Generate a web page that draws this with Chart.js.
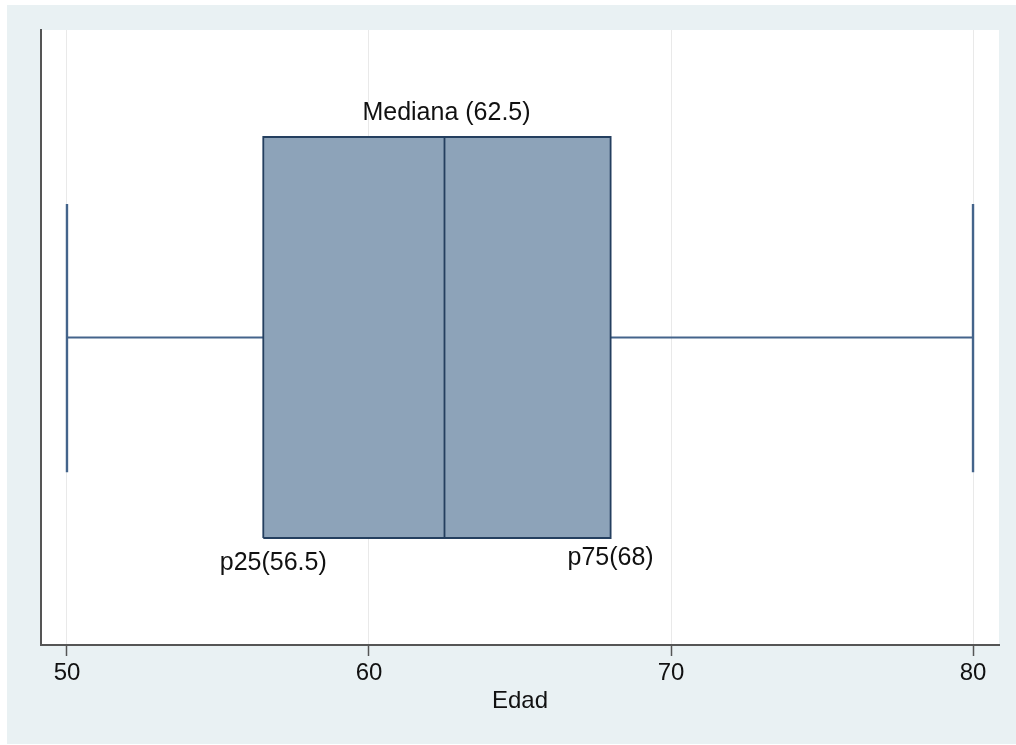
<!DOCTYPE html>
<html>
<head>
<meta charset="utf-8">
<script src="https://cdn.jsdelivr.net/npm/chart.js@4.4.0/dist/chart.umd.min.js"></script>
<style>
  html, body { margin: 0; padding: 0; background: #ffffff; }
  #wrap { position: relative; width: 1016px; height: 745px; overflow: hidden; }
  #bg { position: absolute; left: 7px; top: 5px; width: 1009px; height: 739px; background: #e9f1f3; }
  #c { position: absolute; left: 0; top: 0; }
</style>
</head>
<body>
<div id="wrap">
  <div id="bg"></div>
  <canvas id="c" width="1016" height="745"></canvas>
</div>
<script>
// ---- data ----
const statNames  = ['min', 'p25', 'median', 'p75', 'max'];
const statValues = [50, 56.5, 62.5, 68, 80];
const tickValues = [50, 60, 70, 80];
const axisTitle  = 'Edad';
const annotationTexts  = ['Mediana (62.5)', 'p25(56.5)', 'p75(68)'];
const annotationStats  = ['median', 'p25', 'p75'];

const v = name => statValues[statNames.indexOf(name)];

// vertical geometry (in y-scale units 0..1)
const yMid = 0.5, boxTop = 0.826, boxBottom = 0.174, capTop = 0.717, capBottom = 0.281;

const boxFill = '#8da3b9';
const boxLine = '#243f5f';
const whiskerColor = '#44648b';

const lineDs = (data, color, width, order) => ({
  data, showLine: true, borderColor: color, borderWidth: width,
  pointRadius: 0, pointHoverRadius: 0, fill: false, tension: 0, order: order
});

const datasets = [
  // whiskers
  lineDs([{x: v('min'), y: yMid}, {x: v('p25'), y: yMid}], whiskerColor, 2, 1),
  lineDs([{x: v('p75'), y: yMid}, {x: v('max'), y: yMid}], whiskerColor, 2, 1),
  // caps
  lineDs([{x: v('min'), y: capBottom}, {x: v('min'), y: capTop}], whiskerColor, 2.4, 1),
  lineDs([{x: v('max'), y: capBottom}, {x: v('max'), y: capTop}], whiskerColor, 2.4, 1),
  // median
  lineDs([{x: v('median'), y: boxBottom}, {x: v('median'), y: boxTop}], boxLine, 1.8, 0),
  // box outline
  lineDs([{x: v('p25'), y: boxBottom}, {x: v('p75'), y: boxBottom}, {x: v('p75'), y: boxTop},
          {x: v('p25'), y: boxTop}, {x: v('p25'), y: boxBottom}], boxLine, 1.8, 0),
  // box fill (top edge filled down to bottom edge), drawn first
  Object.assign(lineDs([{x: v('p25'), y: boxTop}, {x: v('p75'), y: boxTop}], 'rgba(0,0,0,0)', 0, 5),
    {fill: {value: boxBottom}, backgroundColor: boxFill})
];

// label placement (pixel offsets relative to scale positions)
const labelPlacement = {
  median: {dx: 2,  ref: boxTop,    dy: -24},
  p25:    {dx: 10, ref: boxBottom, dy: 25},
  p75:    {dx: 0,  ref: boxBottom, dy: 20}
};

const FONT = '"Liberation Sans", Arial, Helvetica, sans-serif';

const plotBg = {
  id: 'plotBg',
  beforeDraw(chart) {
    const {ctx, chartArea: a} = chart;
    ctx.save();
    ctx.fillStyle = '#ffffff';
    ctx.fillRect(a.left, a.top, a.right - a.left, a.bottom - a.top);
    ctx.restore();
  }
};

const labels = {
  id: 'labels',
  afterDatasetsDraw(chart) {
    const {ctx} = chart;
    const xs = chart.scales.x, ys = chart.scales.y;
    ctx.save();
    ctx.font = '25px ' + FONT;
    ctx.fillStyle = '#111111';
    ctx.textAlign = 'center';
    ctx.textBaseline = 'middle';
    annotationStats.forEach((s, i) => {
      const p = labelPlacement[s];
      const x = xs.getPixelForValue(v(s)) + p.dx;
      const y = ys.getPixelForValue(p.ref) + p.dy;
      ctx.fillText(annotationTexts[i], x, y);
    });
    ctx.restore();
  }
};

new Chart(document.getElementById('c'), {
  type: 'scatter',
  data: { datasets },
  plugins: [plotBg, labels],
  options: {
    responsive: false,
    devicePixelRatio: 1,
    animation: false,
    events: [],
    layout: { padding: { left: 41, top: 30, right: 17, bottom: 29 } },
    plugins: { legend: { display: false }, tooltip: { enabled: false } },
    scales: {
      x: {
        type: 'linear',
        min: 49.14, max: 80.86,
        afterBuildTicks: s => { s.ticks = tickValues.map(t => ({value: t})); },
        afterFit: s => { s.height = 71; },
        grid: { color: '#e9e9e9', lineWidth: 1, tickColor: '#555555', tickLength: 11, tickWidth: 1.5 },
        border: { display: true, color: '#555555', width: 2 },
        ticks: { color: '#111111', font: { family: FONT, size: 24 }, padding: 3, maxRotation: 0, autoSkip: false },
        title: { display: true, text: axisTitle, color: '#111111', font: { family: FONT, size: 24 }, padding: { top: 4, bottom: 0 } }
      },
      y: {
        type: 'linear',
        min: 0, max: 1,
        afterFit: s => { s.width = 0; },
        grid: { display: false },
        border: { display: true, color: '#555555', width: 2 },
        ticks: { display: false }
      }
    }
  }
});
</script>
</body>
</html>
